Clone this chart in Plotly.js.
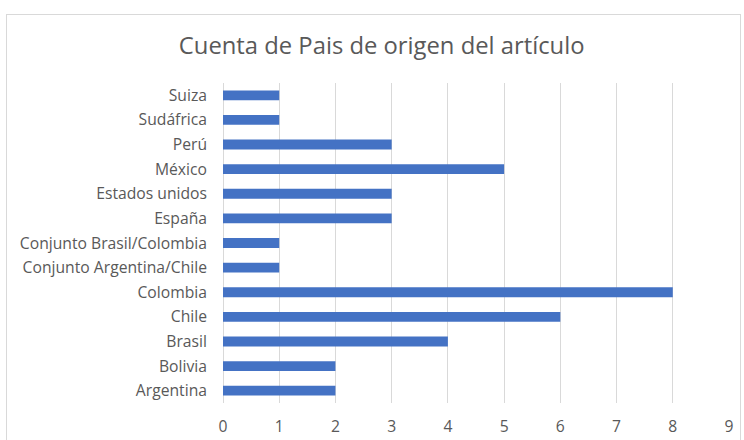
<!DOCTYPE html>
<html><head><meta charset="utf-8">
<script src="https://cdn.plot.ly/plotly-3.0.1.min.js"></script>
<style>
html,body{margin:0;padding:0;background:#fff;}
#wrap{position:relative;width:744px;height:440px;overflow:hidden;}
#border{position:absolute;left:6px;top:14px;width:735px;height:460px;border:1px solid #d9d9d9;box-sizing:border-box;pointer-events:none;z-index:5;}
#chart{position:absolute;left:0;top:0;width:744px;height:440px;}
</style></head>
<body><div id="wrap"><div id="chart"></div><div id="border"></div></div>
<script>
const categories = ["Argentina","Bolivia","Brasil","Chile","Colombia","Conjunto Argentina/Chile","Conjunto Brasil/Colombia","España","Estados unidos","México","Perú","Sudáfrica","Suiza"];
const counts = [2,2,4,6,8,1,1,3,3,5,3,1,1];
const xTicks = [0,1,2,3,4,5,6,7,8,9];
const titleText = "Cuenta de Pais de origen del artículo";

const font = "'Open Sans', Lato, sans-serif";
Plotly.newPlot('chart', [{
  type:'bar', orientation:'h', y:categories, x:counts,
  marker:{color:'#4472C4'}, hoverinfo:'none'
}], {
  width:744, height:440,
  margin:{l:223, r:15, t:83, b:37},
  paper_bgcolor:'#fff', plot_bgcolor:'#fff',
  bargap:0.6,
  showlegend:false,
  title:{text:titleText, xref:'container', x:0.513, xanchor:'center', yref:'container', y:1-46/440, yanchor:'middle',
    font:{family:font, size:23.8, color:'#595959'}},
  xaxis:{range:[0,9], tickvals:xTicks, ticktext:xTicks.map(String), showgrid:true, gridcolor:'#d9d9d9', gridwidth:1,
    zeroline:true, zerolinecolor:'#d9d9d9', zerolinewidth:1, showline:false, ticks:'', ticklabelstandoff:12,
    tickfont:{family:font, size:15.7, color:'#595959'}, fixedrange:true},
  yaxis:{type:'category', categoryorder:'array', categoryarray:categories, showgrid:false, zeroline:false, showline:false,
    ticks:'', ticklabelstandoff:15, tickfont:{family:font, size:15.7, color:'#595959'}, fixedrange:true}
}, {staticPlot:true, displayModeBar:false});
</script></body></html>
